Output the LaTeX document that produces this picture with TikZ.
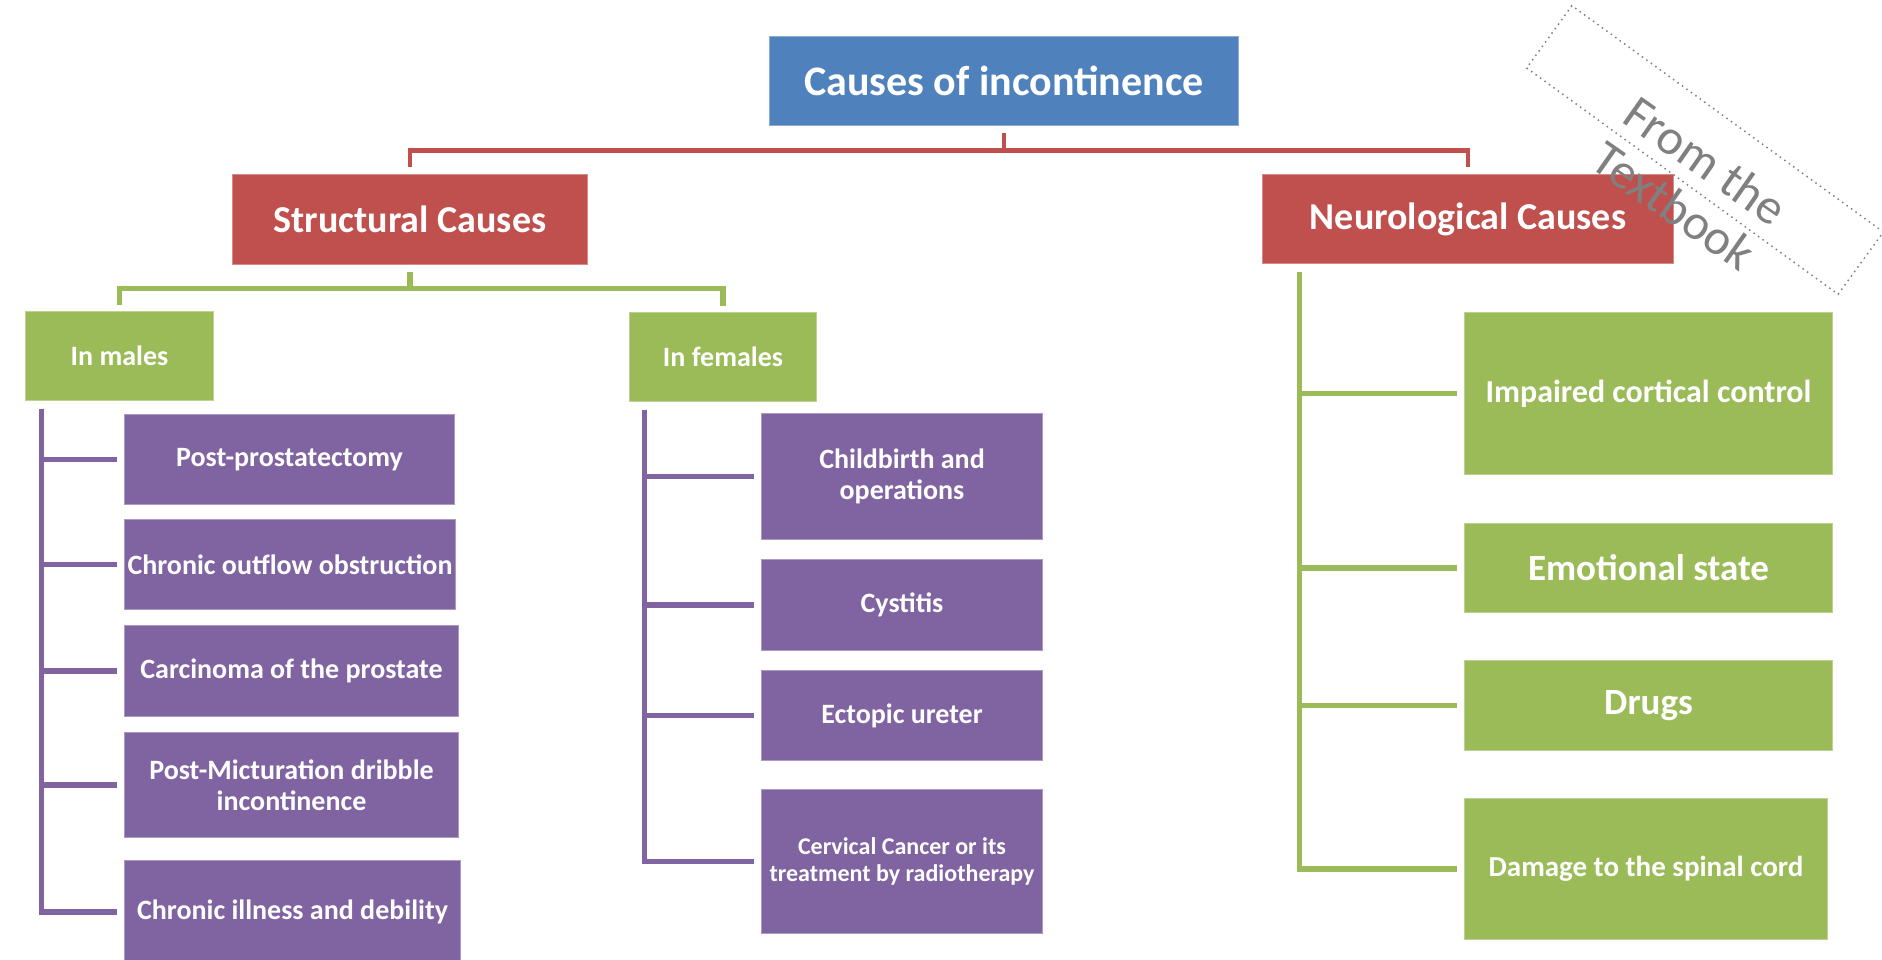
\documentclass[tikz,border=0pt]{standalone}
\usepackage{fontspec}
\setmainfont{Carlito}
\definecolor{cblue}{HTML}{4F81BD}
\definecolor{cred}{HTML}{C0504D}
\definecolor{cgreen}{HTML}{9BBB59}
\definecolor{cpurple}{HTML}{8064A2}
\begin{document}
\begin{tikzpicture}[x=1pt,y=-1pt,
  box/.style={rectangle, inner sep=0pt, text=white, align=center, draw=white, draw opacity=0.35, line width=1.2pt},
  tA/.style={font=\bfseries\fontsize{42}{48}\selectfont},
  tB/.style={font=\bfseries\fontsize{38}{44}\selectfont},
  tC/.style={font=\bfseries\fontsize{37}{42}\selectfont},
  tD/.style={font=\bfseries\fontsize{32}{37}\selectfont},
  tE/.style={font=\bfseries\fontsize{29}{33}\selectfont},
  tF/.style={font=\bfseries\fontsize{28}{31}\selectfont},
  tG/.style={font=\bfseries\fontsize{24}{26.5}\selectfont},
  conn/.style={line width=5.5pt},
  connr/.style={line width=4.5pt},
]
\useasboundingbox (0,0) rectangle (1882,959);

% level 0/1
\node[box, tA, fill=cblue, minimum width=470pt, minimum height=90pt] (top) at (1004,81) {Causes of incontinence};
\node[box, tB, fill=cred, minimum width=356pt, minimum height=91pt] (struct) at (410,219.5) {Structural Causes};
\node[box, tB, fill=cred, minimum width=412pt, minimum height=90pt] (neuro) at (1468,219) {Neurological Causes};

% level 2
\node[box, tF, fill=cgreen, minimum width=189pt, minimum height=90pt] (males) at (119.5,356) {In males};
\node[box, tF, fill=cgreen, minimum width=188pt, minimum height=90pt] (females) at (723,357) {In females};

% males
\node[box, tF, fill=cpurple, minimum width=331pt, minimum height=91pt] (m1) at (289.5,459.5) {Post-prostatectomy};
\node[box, tF, fill=cpurple, minimum width=332pt, minimum height=91pt] (m2) at (290,564.5) {Chronic outflow obstruction};
\node[box, tF, fill=cpurple, minimum width=335pt, minimum height=92pt] (m3) at (291.5,671) {Carcinoma of the prostate};
\node[box, tF, fill=cpurple, minimum width=335pt, minimum height=106pt] (m4) at (291.5,785) {Post-Micturation dribble\\incontinence};
\node[box, tF, fill=cpurple, minimum width=337pt, minimum height=104pt] (m5) at (292.5,912) {Chronic illness and debility};

% females
\node[box, tF, fill=cpurple, minimum width=282pt, minimum height=127pt] (f1) at (902,476.5) {Childbirth and\\operations};
\node[box, tF, fill=cpurple, minimum width=282pt, minimum height=92pt] (f2) at (902,605) {Cystitis};
\node[box, tF, fill=cpurple, minimum width=282pt, minimum height=91pt] (f3) at (902,715.5) {Ectopic ureter};
\node[box, tG, fill=cpurple, minimum width=282pt, minimum height=145pt] (f4) at (902,861.5) {Cervical Cancer or its\\treatment by radiotherapy};

% neurological
\node[box, tD, fill=cgreen, minimum width=369pt, minimum height=163pt] (n1) at (1648.5,393.5) {Impaired cortical control};
\node[box, tC, fill=cgreen, minimum width=369pt, minimum height=90pt] (n2) at (1648.5,568) {Emotional state};
\node[box, tC, fill=cgreen, minimum width=369pt, minimum height=91pt] (n3) at (1648.5,705.5) {Drugs};
\node[box, tE, fill=cgreen, minimum width=364pt, minimum height=142pt] (n4) at (1646,869) {Damage to the spinal cord};

% connectors: red
\draw[connr, cred, shorten <=6pt, shorten >=6pt] (top.south) -- ++(0,24) -| (struct.north);
\draw[connr, cred, shorten <=6pt, shorten >=6pt] (top.south) -- ++(0,24) -| (neuro.north);
% green from structural
\draw[conn, cgreen, shorten <=6pt, shorten >=5pt] (struct.south) -- ++(0,23) -| (males.north);
\draw[conn, cgreen, shorten <=6pt, shorten >=5pt] (struct.south) -- ++(0,23) -| (females.north);
% purple males
\foreach \b in {m1,m2,m3,m4,m5}
  \draw[conn, cpurple, shorten >=6pt] (males.south west) ++(17,7) |- (\b.west);
% purple females
\foreach \b in {f1,f2,f3,f4}
  \draw[conn, cpurple, shorten >=6pt] (females.south west) ++(16,7) |- (\b.west);
% green neuro
\foreach \b in {n1,n2,n3,n4}
  \draw[conn, cgreen, shorten >=6pt] (neuro.south west) ++(38,7) |- (\b.west);

% watermark
\node[draw=gray, line width=1.5pt, dash pattern=on 1.5pt off 4pt, rotate=-36, minimum width=385pt, minimum height=77pt, inner sep=0pt] (wmbox) at (1705,150) {};
\node[text=gray, rotate=-35, font=\fontsize{50}{55}\selectfont, align=center] (wm) at (1690,183) {From the\\Textbook};
\end{tikzpicture}
\end{document}
